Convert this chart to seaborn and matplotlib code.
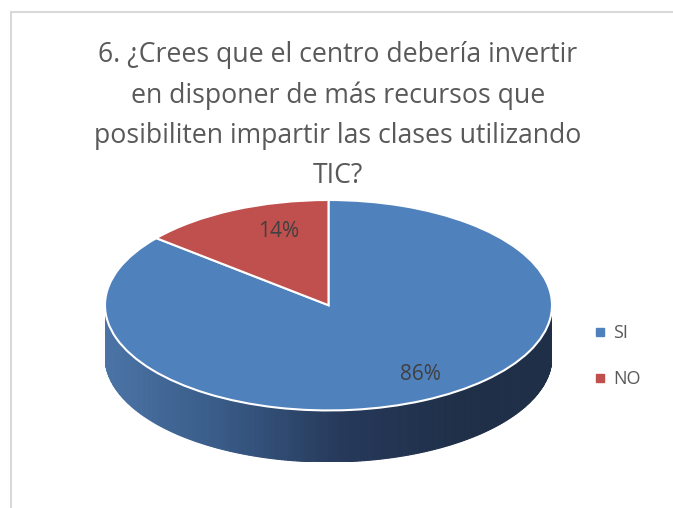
import numpy as np
import matplotlib
matplotlib.use("Agg")
import matplotlib.pyplot as plt
import matplotlib.colors as mcolors
from matplotlib.patches import Polygon, Rectangle
import seaborn as sns

# ── Data ─────────────────────────────────────────────────────────────────────
labels = ["SI", "NO"]
values = [86, 14]
colors = ["#4F81BD", "#C0504D"]
title = ("6. ¿Crees que el centro debería invertir\n"
         "en disponer de más recursos que\n"
         "posibiliten impartir las clases utilizando\n"
         "TIC?")

sns.set_style("white")
plt.rcParams["font.family"] = ["Open Sans", "DejaVu Sans"]

W, H = 673, 508
fig = plt.figure(figsize=(W / 100, H / 100), dpi=100)

# chart frame (light grey border like the Excel chart area)
fig.patches.append(Rectangle((11 / W, -0.1), 2.0, (H - 12) / H + 0.1,
                             transform=fig.transFigure, fill=False,
                             edgecolor="#d9d9d9", linewidth=1.5))

fig.text(338 / W, 1 - 41 / H, title, ha="center", va="top",
         fontsize=19.2, color="#595959", linespacing=1.58)

# ── Pie: squashed axes gives the tilted ellipse ─────────────────────────────
depth = 0.49                      # side height in units of the minor radius
left, right, top, bottom = 105, 552, 200, 462
ax = fig.add_axes([left / W, 1 - bottom / H, (right - left) / W, (bottom - top) / H])

# side wall of the front half, shaded left → right
side_cmap = mcolors.LinearSegmentedColormap.from_list(
    "side", ["#4B74A6", "#385A86", "#26395A", "#1F2F48"])
theta = np.linspace(np.pi, 2 * np.pi, 241)
for t0, t1 in zip(theta[:-1], theta[1:]):
    xs = [np.cos(t0), np.cos(t1), np.cos(t1), np.cos(t0)]
    ys = [np.sin(t0), np.sin(t1), np.sin(t1) - depth, np.sin(t0) - depth]
    frac = (np.cos(0.5 * (t0 + t1)) + 1) / 2
    c = side_cmap(min(frac * 1.25, 1.0))
    ax.add_patch(Polygon(list(zip(xs, ys)), closed=True, facecolor=c,
                         edgecolor=c, linewidth=0.8, zorder=1))

wedges, _ = ax.pie(values, colors=colors, startangle=90, counterclock=False,
                   wedgeprops=dict(edgecolor="white", linewidth=1.5))
for w in wedges:
    w.set_zorder(2)

ax.set_aspect("auto")
ax.set_xlim(-1, 1)
ax.set_ylim(-1 - depth, 1)
ax.axis("off")

# percentage labels
ax.text(0.41, -0.66, f"{values[0]}%", ha="center", va="center",
        fontsize=15, color="#404040", zorder=3)
ax.text(-0.225, 0.70, f"{values[1]}%", ha="center", va="center",
        fontsize=15, color="#404040", zorder=3)

# legend
handles = [plt.Line2D([], [], marker="s", linestyle="none", markersize=6,
                      markerfacecolor=c, markeredgecolor=c) for c in colors]
fig.legend(handles, labels, loc="center left",
           bbox_to_anchor=(575 / W, 1 - 356 / H), frameon=False,
           fontsize=13, handletextpad=0.2, labelspacing=1.55,
           labelcolor="#595959", handlelength=1.0)

fig.savefig("out.png", dpi=100)
